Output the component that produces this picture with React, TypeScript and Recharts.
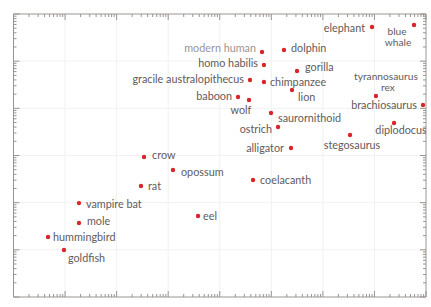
import React from "react";
import { ScatterChart, Scatter, XAxis, YAxis, ReferenceLine } from "recharts";

// Body mass (kg) and brain mass (g), log-log
const animals = [
  "modern human", "dolphin", "homo habilis", "gracile australopithecus", "chimpanzee",
  "baboon", "wolf", "gorilla", "lion", "elephant", "blue whale", "tyrannosaurus rex",
  "brachiosaurus", "saurornithoid", "ostrich", "alligator", "diplodocus", "stegosaurus",
  "crow", "opossum", "rat", "coelacanth", "vampire bat", "mole", "hummingbird", "goldfish", "eel",
];
const bodyMass = [
  66, 176, 72, 38.6, 72,
  22.6, 36.9, 315, 252, 8980, 58600, 10700,
  87500, 98.6, 135, 241, 24000, 3360,
  0.34, 1.24, 0.297, 44.2, 0.0186, 0.0186, 0.00467, 0.00952, 3.79,
];
const brainMass = [
  1560, 1725, 830, 399, 361,
  174, 150, 619, 245, 5300, 5850, 183,
  118, 79.6, 40.2, 14.4, 48.9, 27.2,
  9.3, 4.93, 2.26, 3.03, 0.98, 0.371, 0.187, 0.0993, 0.522,
];

const xDecades = [1e-2, 1e-1, 1, 10, 100, 1e3, 1e4];
const yDecades = [1e-1, 1, 10, 100, 1e3];

const data = animals.map((name, i) => ({ name, body: bodyMass[i], brain: brainMass[i] }));

function logTicks(lo: number, hi: number) {
  const t: number[] = [];
  for (let k = lo; k < hi; k++) {
    for (let m = 1; m <= 9; m++) t.push(Number((m * Math.pow(10, k)).toPrecision(6)));
  }
  t.push(Math.pow(10, hi));
  return t;
}
const xTicks = logTicks(-3, 5);
const yTicks = logTicks(-2, 4);

// label placement (styling)
type L = { dx: number; dy: number; a: "start" | "middle" | "end"; lines?: { t: string; dx: number; dy: number }[]; light?: boolean };
const labelLayout: Record<string, L> = {
  "modern human": { dx: -6, dy: -5, a: "end", light: true },
  dolphin: { dx: 7, dy: -2, a: "start" },
  "homo habilis": { dx: -6, dy: -2, a: "end" },
  "gracile australopithecus": { dx: -6, dy: -1, a: "end" },
  chimpanzee: { dx: 6, dy: -1, a: "start" },
  baboon: { dx: -6, dy: -1, a: "end" },
  wolf: { dx: -8, dy: 9, a: "middle" },
  gorilla: { dx: 8, dy: -4, a: "start" },
  lion: { dx: 6, dy: 7, a: "start" },
  elephant: { dx: -7, dy: 0, a: "end" },
  "blue whale": { dx: 0, dy: 0, a: "middle", lines: [{ t: "blue", dx: -17, dy: 6.5 }, { t: "whale", dx: -16, dy: 17.5 }] },
  "tyrannosaurus rex": { dx: 0, dy: 0, a: "middle", lines: [{ t: "tyrannosaurus", dx: 10, dy: -19.5 }, { t: "rex", dx: 12, dy: -8.5 }] },
  brachiosaurus: { dx: -6, dy: 0, a: "end" },
  saurornithoid: { dx: 7, dy: 4, a: "start" },
  ostrich: { dx: -6, dy: 1, a: "end" },
  alligator: { dx: -7, dy: -1, a: "end" },
  diplodocus: { dx: 7, dy: 7, a: "middle" },
  stegosaurus: { dx: 2, dy: 9, a: "middle" },
  crow: { dx: 8, dy: -2, a: "start" },
  opossum: { dx: 8, dy: 2, a: "start" },
  rat: { dx: 7, dy: 0, a: "start" },
  coelacanth: { dx: 7, dy: 0, a: "start" },
  "vampire bat": { dx: 7, dy: 0, a: "start" },
  mole: { dx: 8, dy: -2, a: "start" },
  hummingbird: { dx: 5, dy: -1, a: "start" },
  goldfish: { dx: 4, dy: 8, a: "start" },
  eel: { dx: 5, dy: 0, a: "start" },
};

const FONT = "Lato, 'Open Sans', sans-serif";
const FS = 10.8;
const FS2 = 10.2;
const AXIS = "#9a9490";
const TEXT = "#5f5a5c";

function isMajor(v: number) {
  const l = Math.log10(v);
  return Math.abs(l - Math.round(l)) < 1e-6;
}

function makeTick(side: "bottom" | "top" | "left" | "right") {
  return (props: any) => {
    const { x, y, payload } = props;
    const len = isMajor(payload.value) ? 6 : 3;
    let x2 = x, y2 = y;
    if (side === "bottom") y2 = y - len;
    if (side === "top") y2 = y + len;
    if (side === "left") x2 = x + len;
    if (side === "right") x2 = x - len;
    return <line x1={x} y1={y} x2={x2} y2={y2} stroke={AXIS} strokeWidth={1} />;
  };
}

const Dot = (props: any) => {
  const { cx, cy, payload } = props;
  const L = labelLayout[payload.name];
  const fill = L && L.light ? "#9a9496" : TEXT;
  const texts = L
    ? L.lines
      ? L.lines.map((ln, i) => (
          <text key={i} x={cx + ln.dx} y={cy + ln.dy} textAnchor={L.a} dominantBaseline="central" fontSize={FS2} fontFamily={FONT} fill={fill}>{ln.t}</text>
        ))
      : [
          <text key="t" x={cx + L.dx} y={cy + L.dy} textAnchor={L.a} dominantBaseline="central" fontSize={FS} fontFamily={FONT} fill={fill}>{payload.name}</text>,
        ]
    : null;
  return (
    <g>
      <circle cx={cx} cy={cy} r={2.2} fill="#d8262a" />
      {texts}
    </g>
  );
};

const common = { type: "number" as const, scale: "log" as const, allowDataOverflow: true, interval: 0 as const, tickSize: 0, tickMargin: 0, stroke: AXIS };

export default function App() {
  return (
    <div style={{ position: "absolute", left: 0, top: 0, width: 431, height: 307, background: "#fff" }}>
      <ScatterChart width={431} height={307} margin={{ top: 13, right: 4, bottom: 9, left: 12.5 }}>
        <XAxis {...common} xAxisId={0} dataKey="body" domain={[1e-3, 1e5]} ticks={xTicks} height={1} tick={makeTick("bottom")} />
        <XAxis {...common} xAxisId="top" orientation="top" dataKey="body" domain={[1e-3, 1e5]} ticks={xTicks} height={1} tick={makeTick("top")} />
        <YAxis {...common} yAxisId={0} dataKey="brain" domain={[1e-2, 1e4]} ticks={yTicks} width={1} tick={makeTick("left")} />
        <YAxis {...common} yAxisId="right" orientation="right" dataKey="brain" domain={[1e-2, 1e4]} ticks={yTicks} width={1} tick={makeTick("right")} />
        {xDecades.map((v) => (
          <ReferenceLine key={"x" + v} x={v} xAxisId={0} yAxisId={0} stroke="#f1f1f1" strokeWidth={1} />
        ))}
        {yDecades.map((v) => (
          <ReferenceLine key={"y" + v} y={v} xAxisId={0} yAxisId={0} stroke="#f1f1f1" strokeWidth={1} />
        ))}
        <Scatter data={data} xAxisId={0} yAxisId={0} isAnimationActive={false} shape={Dot} />
      </ScatterChart>
    </div>
  );
}
